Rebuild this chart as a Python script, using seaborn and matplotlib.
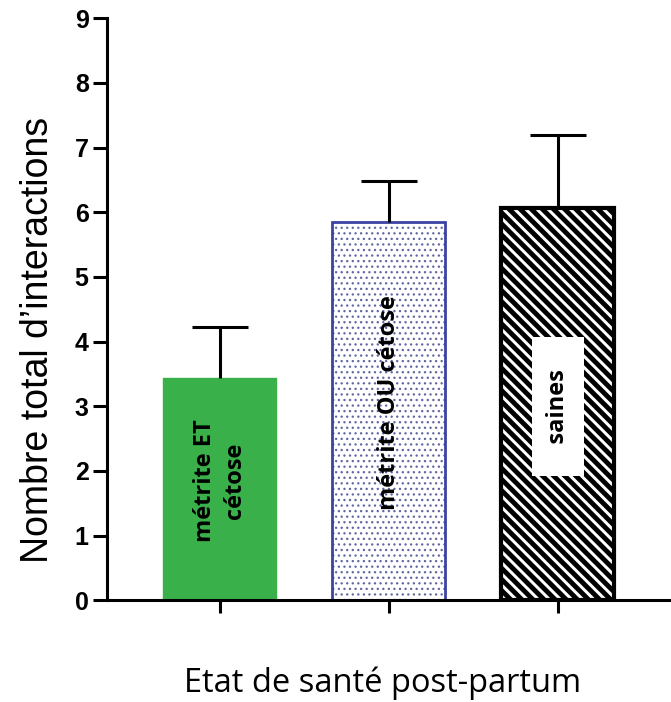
import pandas as pd
import seaborn as sns
import matplotlib.pyplot as plt

# values
groups = ['métrite ET\ncétose', 'métrite OU cétose', 'saines']
means = [3.43, 5.85, 6.07]
err_up = [0.80, 0.63, 1.12]

df = pd.DataFrame({'Etat': groups, 'Interactions': means})

sns.set_style('ticks')
plt.rcParams['font.family'] = ['Open Sans', 'DejaVu Sans']
plt.rcParams['hatch.linewidth'] = 3.5

fig = plt.figure(figsize=(6.71, 7.02), dpi=100)
ax = fig.add_axes([0.159, 0.145, 0.841, 0.829])

sns.barplot(data=df, x='Etat', y='Interactions', ax=ax, errorbar=None,
            palette=['#39b04a', 'white', 'white'], hue='Etat', legend=False,
            width=0.67, saturation=1)

bars = ax.patches
bars[0].set_edgecolor('#39b04a')
bars[1].set_edgecolor('#3b43a3')
bars[1].set_linewidth(2)
bars[1].set_hatch('...')
bars[1]._hatch_color = (0.38, 0.40, 0.64, 1)
if hasattr(bars[1], 'set_hatch_linewidth'):
    bars[1].set_hatch_linewidth(0.9)
bars[2].set_edgecolor('black')
bars[2].set_linewidth(3)
bars[2].set_hatch('\\\\\\')

# upper error bars only
_, caps, _ = ax.errorbar(range(len(means)), means,
                         yerr=[[0] * len(means), err_up],
                         fmt='none', ecolor='black', elinewidth=2.2,
                         capsize=20, capthick=2.2, zorder=1)
caps[0].set_visible(False)

# labels inside bars
ax.text(0, 1.85, groups[0], rotation=90, ha='center', va='center',
        fontsize=17, fontweight='bold', color='black', linespacing=1.35)
ax.text(1, 3.05, groups[1], rotation=90, ha='center', va='center',
        fontsize=17, fontweight='bold', color='black')
ax.text(2, 3.0, '   ' + groups[2] + '   ', rotation=90, ha='center',
        va='center', fontsize=17, fontweight='bold', color='black',
        bbox=dict(facecolor='white', edgecolor='none', pad=10))

ax.set_ylim(0, 9)
ax.set_xlim(-0.67, 2.67)
ax.set_yticks(range(0, 10))
ax.set_xticks(range(len(groups)))
ax.set_xticklabels([])
for lab in ax.get_yticklabels():
    lab.set_fontfamily('Liberation Sans')
    lab.set_fontweight('bold')
    lab.set_fontsize(18)
    lab.set_color('black')

ax.tick_params(axis='y', width=2.2, length=10, color='black', pad=3)
ax.tick_params(axis='x', width=2.2, length=9, color='black')
for s in ['left', 'bottom']:
    ax.spines[s].set_linewidth(2.2)
    ax.spines[s].set_color('black')
sns.despine(ax=ax)

ax.set_ylabel('Nombre total d\u2019interactions', fontsize=27,
              family='Liberation Sans', color='black')
ax.yaxis.set_label_coords(-0.09, 0.447)
ax.set_xlabel('Etat de santé post-partum', fontsize=23.5, color='black',
              va='center')
ax.xaxis.set_label_coords(0.488, -0.143)

plt.savefig('out.png', dpi=100)
